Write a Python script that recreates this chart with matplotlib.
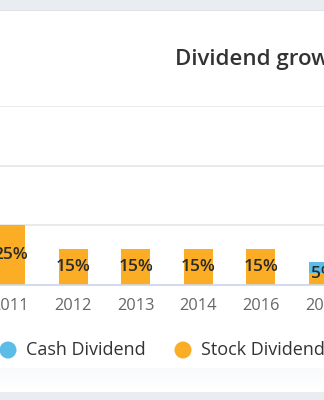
import matplotlib
matplotlib.use("Agg")
import matplotlib.pyplot as plt
import numpy as np
from matplotlib.patches import Rectangle, Ellipse

plt.rcParams['font.family'] = ['Open Sans', 'DejaVu Sans']

years = ["2011", "2012", "2013", "2014", "2016", "2017"]
cash_dividend = [0, 0, 0, 0, 0, 4.5]
stock_dividend = [25, 15, 15, 15, 15, 5]
stock_labels = ["25%", "15%", "15%", "15%", "15%", "5%"]
y_ticks = [0, 25, 50, 75]

title = "Dividend growth"
blue = "#5bbde8"
orange = "#fbae25"

W, H = 324, 400
fig = plt.figure(figsize=(W / 100, H / 100), dpi=100)
fig.patch.set_facecolor("white")

def fx(px):
    return px / W

def fy(py):
    return 1 - py / H

# top band
fig.add_artist(Rectangle((0, fy(10)), 1, 10 / H, transform=fig.transFigure,
                         facecolor="#e9ecf0", edgecolor="none", zorder=0))
fig.add_artist(Rectangle((0, fy(11)), 1, 1 / H, transform=fig.transFigure,
                         facecolor="#dfe3e8", edgecolor="none", zorder=0))
# bottom gradient and band
grad = np.linspace(0, 1, 64).reshape(-1, 1)
gax = fig.add_axes([0, fy(392), 1, 24 / H])
gax.imshow(grad, aspect="auto", cmap=matplotlib.colors.LinearSegmentedColormap.from_list(
    "g", ["#f9fafb", "#ffffff"]), extent=[0, 1, 0, 1])
gax.axis("off")
fig.add_artist(Rectangle((0, 0), 1, 8 / H, transform=fig.transFigure,
                         facecolor="#e9ecf0", edgecolor="none", zorder=0))

# main axes: category i centred at 10.5 + 62.6*i px; value 0 at y=285, 75 at y=106
step = 62.6
c0 = 10.5
ax = fig.add_axes([0, fy(285), 1, (285 - 106) / H])
ax.set_xlim(-c0 / step, (W - c0) / step)
ax.set_ylim(0, 75)
ax.set_facecolor("none")
x = np.arange(len(years))
bw = 29 / step
ax.bar(x, stock_dividend, width=bw, color=orange, zorder=3)
ax.bar(x, cash_dividend, width=bw, bottom=stock_dividend, color=blue, zorder=3)
for xi, s, c, lab in zip(x, stock_dividend, cash_dividend, stock_labels):
    ax.text(xi, (s + c) / 2, lab, ha="center", va="center", fontsize=12.5,
            fontweight="semibold", color="#2b2b2b", zorder=5)

ax.set_yticks(y_ticks)
ax.set_yticklabels([])
ax.tick_params(axis="y", length=0)
ax.grid(axis="y", color="#e6e6e6", linewidth=1.2, zorder=0)
ax.set_xticks(x)
ax.set_xticklabels(years, color="#666666", fontsize=11.8)
ax.tick_params(axis="x", length=0, pad=9)
for sp in ["top", "left", "right"]:
    ax.spines[sp].set_visible(False)
ax.spines["bottom"].set_color("#ccd6eb")
ax.spines["bottom"].set_linewidth(1.2)
ax.spines["bottom"].set_zorder(4)

# title
fig.text(fx(175), fy(60), title, ha="left", va="center", fontsize=16,
         fontweight="semibold", color="#333333")

# legend
for cx, col, lab in [(8, blue, "Cash Dividend"), (183, orange, "Stock Dividend")]:
    fig.add_artist(Ellipse((fx(cx), fy(350)), 17 / W, 17 / H,
                           transform=fig.transFigure,
                           facecolor=col, edgecolor="none"))
    fig.text(fx(cx + 18), fy(350), lab, ha="left", va="center", fontsize=13,
             color="#333333")

fig.savefig("out.png", dpi=100)
